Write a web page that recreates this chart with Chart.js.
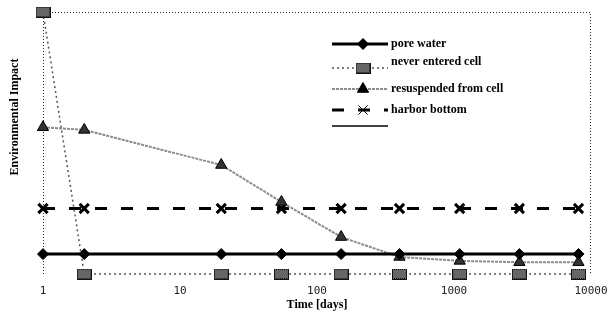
<!DOCTYPE html>
<html>
<head>
<meta charset="utf-8">
<script src="https://cdn.jsdelivr.net/npm/chart.js@4"></script>
<style>
  html, body { margin: 0; padding: 0; background: #fff; }
  #wrap { width: 611px; height: 320px; }
</style>
</head>
<body>
<div id="wrap"><canvas id="grafico"></canvas></div>
<script>
// valores
const tempo = [1, 2, 20, 55, 150, 400, 1100, 3000, 8100]
const pore_water = [7.6, 7.6, 7.6, 7.6, 7.6, 7.6, 7.6, 7.6, 7.6]
const never_entered = [100, 0, 0, 0, 0, 0, 0, 0, 0]
const resuspended = [56, 55, 41.6, 27.5, 14.1, 6.5, 5, 4.5, 4.5]
const harbor_bottom = [25, 25, 25, 25, 25, 25, 25, 25, 25]
const ticks_x = [1, 10, 100, 1000, 10000]
const nomes = ['pore water', 'never entered cell', 'resuspended from cell', 'harbor bottom']

const serie = valores => valores.map((v, i) => ({ x: tempo[i], y: v }))

// quadradinho quadriculado usado como marcador
const quadrado = (() => {
  const c = document.createElement('canvas')
  c.width = 15; c.height = 11
  const g = c.getContext('2d')
  g.fillStyle = '#111'
  g.fillRect(0, 0, 15, 11)
  g.fillStyle = '#bbb'
  for (let yy = 1; yy < 10; yy++) {
    for (let xx = 1; xx < 14; xx++) {
      if ((xx + yy) % 2 == 0) g.fillRect(xx, yy, 1, 1)
    }
  }
  return c
})()

const datasets = [
  {
    label: nomes[0], data: serie(pore_water),
    borderColor: '#000', backgroundColor: '#000', borderWidth: 3,
    pointStyle: 'rectRot', pointRadius: 5.5, pointBorderWidth: 1
  },
  {
    label: nomes[1], data: serie(never_entered),
    borderColor: '#555', backgroundColor: '#555', borderWidth: 1.5, borderDash: [2, 3],
    pointStyle: quadrado
  },
  {
    label: nomes[2], data: serie(resuspended),
    borderColor: '#8c8c8c', backgroundColor: '#333', borderWidth: 2, borderDash: [3, 1],
    pointStyle: 'triangle', pointRadius: 6.5, pointBorderColor: '#000', pointBorderWidth: 1
  },
  {
    label: nomes[3], data: serie(harbor_bottom),
    borderColor: '#000', backgroundColor: '#000', borderWidth: 3, borderDash: [12, 14],
    pointStyle: 'crossRot', pointRadius: 6.5, pointBorderWidth: 3
  }
]
datasets.forEach(d => { d.clip = false; d.tension = 0 })

// moldura pontilhada, titulos dos eixos e legenda dentro do grafico
const extras = {
  id: 'extras',
  beforeDatasetsDraw(chart) {
    const { ctx, chartArea: a } = chart
    ctx.save()
    ctx.strokeStyle = '#222'
    ctx.lineWidth = 1
    ctx.setLineDash([1, 2])
    ctx.beginPath()
    ctx.moveTo(a.left + 0.5, a.bottom)
    ctx.lineTo(a.left + 0.5, a.top + 0.5)
    ctx.lineTo(a.right - 0.5, a.top + 0.5)
    ctx.lineTo(a.right - 0.5, a.bottom)
    ctx.stroke()
    ctx.restore()
  },
  afterDraw(chart) {
    const { ctx } = chart
    ctx.save()
    ctx.fillStyle = '#000'
    ctx.font = 'bold 12px "Liberation Serif"'
    ctx.textAlign = 'center'
    ctx.textBaseline = 'middle'
    ctx.fillText('Time [days]', 317, 305)
    ctx.translate(15, 117)
    ctx.rotate(-Math.PI / 2)
    ctx.fillText('Environmental Impact', 0, 0)
    ctx.restore()

    // legenda
    const x0 = 332, x1 = 388
    const linhas = [44, 68, 89, 110]
    ctx.save()
    chart.data.datasets.forEach((d, i) => {
      const y = linhas[i]
      ctx.save()
      ctx.strokeStyle = d.borderColor
      ctx.lineWidth = d.borderWidth
      ctx.setLineDash(d.borderDash || [])
      ctx.beginPath()
      ctx.moveTo(x0, y)
      ctx.lineTo(x1, y)
      ctx.stroke()
      ctx.restore()
      const el = chart.getDatasetMeta(i).data[1]
      Chart.helpers.drawPoint(ctx, Object.assign({}, el.options), 363, y)
      ctx.fillStyle = '#000'
      ctx.font = 'bold 12px "Liberation Serif"'
      ctx.textAlign = 'left'
      ctx.textBaseline = 'middle'
      ctx.fillText(d.label, 391, y - (i == 1 ? 6 : 0))
    })
    ctx.strokeStyle = '#000'
    ctx.lineWidth = 1.5
    ctx.beginPath()
    ctx.moveTo(x0, 126)
    ctx.lineTo(x1, 126)
    ctx.stroke()
    ctx.restore()
  }
}

new Chart(document.getElementById('grafico'), {
  type: 'line',
  data: { datasets: datasets },
  plugins: [extras],
  options: {
    responsive: true,
    maintainAspectRatio: false,
    animation: false,
    layout: { padding: { left: 43, right: 20, top: 12, bottom: 0 } },
    plugins: { legend: { display: false }, tooltip: { enabled: false } },
    scales: {
      x: {
        type: 'logarithmic',
        min: 1, max: 10000,
        grid: { display: false },
        border: { display: false },
        afterBuildTicks: scale => { scale.ticks = ticks_x.map(v => ({ value: v })) },
        afterFit: scale => {
          scale.height = 46
          scale.paddingLeft = 0
          scale.paddingRight = 0
        },
        ticks: {
          autoSkip: false, maxRotation: 0, padding: 3,
          color: '#222',
          font: { family: '"DejaVu Sans Mono"', size: 11 },
          callback: v => String(v)
        }
      },
      y: {
        display: false,
        min: 0, max: 100
      }
    }
  }
})
</script>
</body>
</html>
